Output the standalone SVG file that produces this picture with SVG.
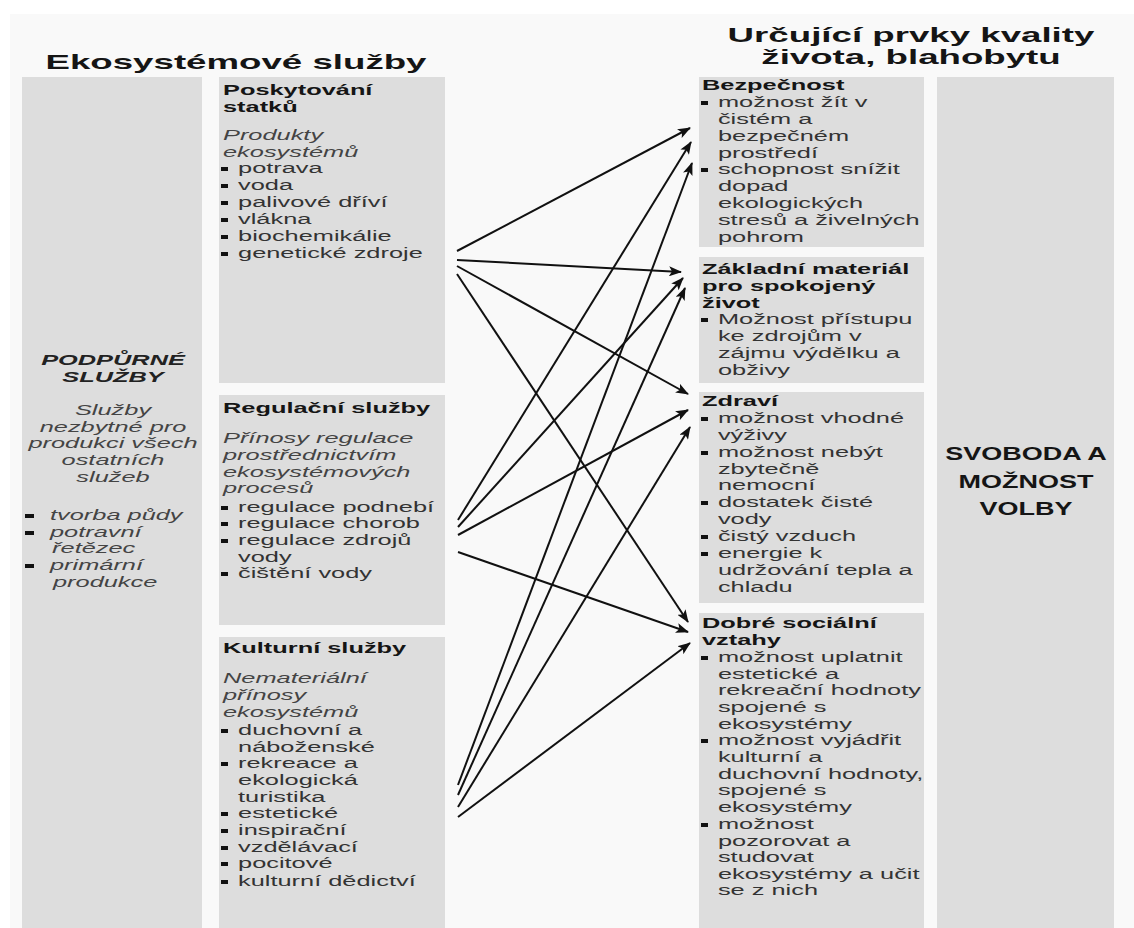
<svg xmlns="http://www.w3.org/2000/svg" width="1134" height="928" viewBox="0 0 1134 928">
<style>
.box{fill:#dddddd}
text{font-family:"Liberation Sans",Arial,sans-serif;font-size:14.5px;fill:#333}
.h{font-weight:bold;fill:#151515}
.i{font-style:italic;fill:#444}
.bi{font-weight:bold;font-style:italic;fill:#222}
.t{font-weight:bold;font-size:19.5px;fill:#151515}
.sv{font-weight:bold;font-size:18px;fill:#151515}
.c{text-anchor:middle}
.b{fill:#111}
.ar{stroke:#111;stroke-width:2;fill:none;marker-end:url(#ah)}
</style>
<defs>
<marker id="ah" markerUnits="userSpaceOnUse" markerWidth="14" markerHeight="10" refX="12" refY="5" orient="auto">
<path d="M0,0 L13,5 L0,10 L3,5 Z" fill="#111"/>
</marker>
</defs>
<rect width="1134" height="928" fill="#ffffff"/>
<rect x="10" y="14" width="1124" height="914" fill="#f9f9f9"/>

<g id="title-left">
<g transform="translate(236,0) scale(1.88,1)"><text class="t c" x="0" y="69">Ekosystémové služby</text></g>
</g>
<g id="title-right">
<g transform="translate(911,0) scale(1.88,1)"><text class="t c" x="0" y="42">Určující prvky kvality</text><text class="t c" x="0" y="64">života, blahobytu</text></g>
</g>

<g id="podpurne">
<rect class="box" x="22" y="77" width="180" height="851"/>
<g transform="translate(113,0) scale(1.75,1)">
<text class="bi c" x="0" y="365">PODPŮRNÉ</text>
<text class="bi c" x="0" y="382">SLUŽBY</text>
<text class="i c" x="0" y="415">Služby</text>
<text class="i c" x="0" y="432">nezbytné pro</text>
<text class="i c" x="0" y="448">produkci všech</text>
<text class="i c" x="0" y="465">ostatních</text>
<text class="i c" x="0" y="482">služeb</text>
</g>
<rect class="b" x="25" y="514" width="9" height="4"/>
<rect class="b" x="25" y="531" width="9" height="4"/>
<rect class="b" x="25" y="564" width="9" height="4"/>
<g transform="translate(50,0) scale(1.75,1)">
<text class="i" x="0" y="520">tvorba půdy</text>
<text class="i" x="0" y="537">potravní</text>
<text class="i" x="1.2" y="553">řetězec</text>
<text class="i" x="0" y="570">primární</text>
<text class="i" x="1.7" y="587">produkce</text>
</g>
</g>

<g id="poskytovani">
<rect class="box" x="219" y="77" width="226" height="306"/>
<g transform="translate(223,0) scale(1.75,1)">
<text class="h" x="0" y="95">Poskytování</text>
<text class="h" x="0" y="112">statků</text>
<text class="i" x="0" y="140">Produkty</text>
<text class="i" x="0" y="157">ekosystémů</text>
<text x="8.6" y="173">potrava</text>
<text x="8.6" y="190">voda</text>
<text x="8.6" y="207">palivové dříví</text>
<text x="8.6" y="224">vlákna</text>
<text x="8.6" y="241">biochemikálie</text>
<text x="8.6" y="258">genetické zdroje</text>
</g>
<rect class="b" x="221" y="167" width="7" height="4"/>
<rect class="b" x="221" y="184" width="7" height="4"/>
<rect class="b" x="221" y="201" width="7" height="4"/>
<rect class="b" x="221" y="218" width="7" height="4"/>
<rect class="b" x="221" y="235" width="7" height="4"/>
<rect class="b" x="221" y="252" width="7" height="4"/>
</g>

<g id="regulacni">
<rect class="box" x="219" y="395" width="226" height="230"/>
<g transform="translate(223,0) scale(1.75,1)">
<text class="h" x="0" y="413">Regulační služby</text>
<text class="i" x="0" y="443">Přínosy regulace</text>
<text class="i" x="0" y="460">prostřednictvím</text>
<text class="i" x="0" y="477">ekosystémových</text>
<text class="i" x="0" y="493">procesů</text>
<text x="8.6" y="512">regulace podnebí</text>
<text x="8.6" y="528">regulace chorob</text>
<text x="8.6" y="545">regulace zdrojů</text>
<text x="8.6" y="562">vody</text>
<text x="8.6" y="578">čištění vody</text>
</g>
<rect class="b" x="221" y="506" width="7" height="4"/>
<rect class="b" x="221" y="522" width="7" height="4"/>
<rect class="b" x="221" y="539" width="7" height="4"/>
<rect class="b" x="221" y="572" width="7" height="4"/>
</g>

<g id="kulturni">
<rect class="box" x="219" y="637" width="226" height="291"/>
<g transform="translate(223,0) scale(1.75,1)">
<text class="h" x="0" y="653">Kulturní služby</text>
<text class="i" x="0" y="683">Nemateriální</text>
<text class="i" x="0" y="700">přínosy</text>
<text class="i" x="0" y="717">ekosystémů</text>
<text x="8.6" y="735">duchovní a</text>
<text x="8.6" y="752">náboženské</text>
<text x="8.6" y="768">rekreace a</text>
<text x="8.6" y="785">ekologická</text>
<text x="8.6" y="802">turistika</text>
<text x="8.6" y="818">estetické</text>
<text x="8.6" y="835">inspirační</text>
<text x="8.6" y="852">vzdělávací</text>
<text x="8.6" y="868">pocitové</text>
<text x="8.6" y="886">kulturní dědictví</text>
</g>
<rect class="b" x="221" y="729" width="7" height="4"/>
<rect class="b" x="221" y="762" width="7" height="4"/>
<rect class="b" x="221" y="812" width="7" height="4"/>
<rect class="b" x="221" y="829" width="7" height="4"/>
<rect class="b" x="221" y="846" width="7" height="4"/>
<rect class="b" x="221" y="862" width="7" height="4"/>
<rect class="b" x="221" y="880" width="7" height="4"/>
</g>

<g id="bezpecnost">
<rect class="box" x="699" y="77" width="225" height="170"/>
<g transform="translate(702,0) scale(1.75,1)">
<text class="h" x="0" y="90">Bezpečnost</text>
<text x="9.1" y="107">možnost žít v</text>
<text x="9.1" y="124">čistém a</text>
<text x="9.1" y="141">bezpečném</text>
<text x="9.1" y="158">prostředí</text>
<text x="9.1" y="174">schopnost snížit</text>
<text x="9.1" y="191">dopad</text>
<text x="9.1" y="208">ekologických</text>
<text x="9.1" y="225">stresů a živelných</text>
<text x="9.1" y="242">pohrom</text>
</g>
<rect class="b" x="701" y="101" width="7" height="4"/>
<rect class="b" x="701" y="168" width="7" height="4"/>
</g>

<g id="zakladni">
<rect class="box" x="699" y="257" width="225" height="126"/>
<g transform="translate(702,0) scale(1.75,1)">
<text class="h" x="0" y="274">Základní materiál</text>
<text class="h" x="0" y="291">pro spokojený</text>
<text class="h" x="0" y="308">život</text>
<text x="9.1" y="324">Možnost přístupu</text>
<text x="9.1" y="341">ke zdrojům v</text>
<text x="9.1" y="358">zájmu výdělku a</text>
<text x="9.1" y="375">obživy</text>
</g>
<rect class="b" x="701" y="318" width="7" height="4"/>
</g>

<g id="zdravi">
<rect class="box" x="699" y="392" width="225" height="211"/>
<g transform="translate(702,0) scale(1.75,1)">
<text class="h" x="0" y="406">Zdraví</text>
<text x="9.1" y="423">možnost vhodné</text>
<text x="9.1" y="440">výživy</text>
<text x="9.1" y="457">možnost nebýt</text>
<text x="9.1" y="474">zbytečně</text>
<text x="9.1" y="490">nemocní</text>
<text x="9.1" y="507">dostatek čisté</text>
<text x="9.1" y="524">vody</text>
<text x="9.1" y="541">čistý vzduch</text>
<text x="9.1" y="558">energie k</text>
<text x="9.1" y="575">udržování tepla a</text>
<text x="9.1" y="592">chladu</text>
</g>
<rect class="b" x="701" y="417" width="7" height="4"/>
<rect class="b" x="701" y="451" width="7" height="4"/>
<rect class="b" x="701" y="501" width="7" height="4"/>
<rect class="b" x="701" y="535" width="7" height="4"/>
<rect class="b" x="701" y="552" width="7" height="4"/>
</g>

<g id="socialni">
<rect class="box" x="699" y="613" width="225" height="315"/>
<g transform="translate(702,0) scale(1.75,1)">
<text class="h" x="0" y="628">Dobré sociální</text>
<text class="h" x="0" y="645">vztahy</text>
<text x="9.1" y="662">možnost uplatnit</text>
<text x="9.1" y="679">estetické a</text>
<text x="9.1" y="695">rekreační hodnoty</text>
<text x="9.1" y="712">spojené s</text>
<text x="9.1" y="729">ekosystémy</text>
<text x="9.1" y="745">možnost vyjádřit</text>
<text x="9.1" y="762">kulturní a</text>
<text x="9.1" y="779">duchovní hodnoty,</text>
<text x="9.1" y="795">spojené s</text>
<text x="9.1" y="812">ekosystémy</text>
<text x="9.1" y="829">možnost</text>
<text x="9.1" y="846">pozorovat a</text>
<text x="9.1" y="862">studovat</text>
<text x="9.1" y="879">ekosystémy a učit</text>
<text x="9.1" y="895">se z nich</text>
</g>
<rect class="b" x="701" y="656" width="7" height="4"/>
<rect class="b" x="701" y="739" width="7" height="4"/>
<rect class="b" x="701" y="823" width="7" height="4"/>
</g>

<g id="svoboda">
<rect class="box" x="937" y="77" width="177" height="851"/>
<g transform="translate(1026,0) scale(1.5,1)">
<text class="sv c" x="0" y="460">SVOBODA A</text>
<text class="sv c" x="0" y="488">MOŽNOST</text>
<text class="sv c" x="0" y="515">VOLBY</text>
</g>
</g>

<g id="connectors">
<line class="ar" x1="457" y1="251" x2="690" y2="128"/>
<line class="ar" x1="457" y1="260" x2="681" y2="272"/>
<line class="ar" x1="457" y1="266" x2="688" y2="394"/>
<line class="ar" x1="457" y1="274" x2="688" y2="622"/>
<line class="ar" x1="458" y1="520" x2="691" y2="142"/>
<line class="ar" x1="458" y1="527" x2="683" y2="278"/>
<line class="ar" x1="458" y1="535" x2="688" y2="410"/>
<line class="ar" x1="458" y1="552" x2="688" y2="632"/>
<line class="ar" x1="458" y1="785" x2="692" y2="163"/>
<line class="ar" x1="458" y1="795" x2="685" y2="288"/>
<line class="ar" x1="458" y1="807" x2="690" y2="427"/>
<line class="ar" x1="458" y1="817" x2="690" y2="643"/>
</g>
</svg>
